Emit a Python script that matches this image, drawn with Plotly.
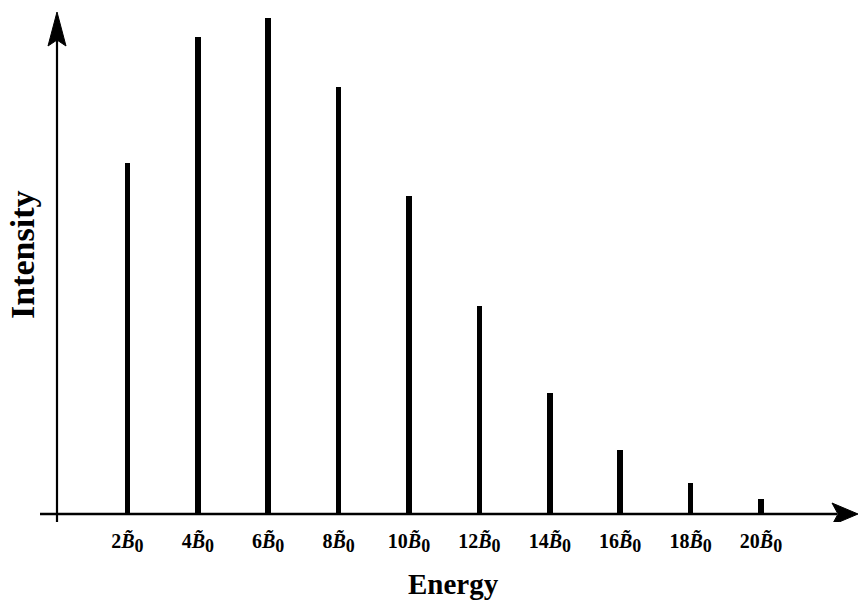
import plotly.graph_objects as go

energy = [2, 4, 6, 8, 10, 12, 14, 16, 18, 20]
intensity = [70.8, 96.2, 100.0, 86.1, 64.1, 41.9, 24.4, 12.9, 6.3, 3.0]
tick_labels = [f"<b>{e}<i>B\u0303</i><sub><span style='font-size:18px'>0</span></sub></b>"
               for e in energy]

FONT = "Liberation Serif"

fig = go.Figure()
fig.add_trace(go.Bar(
    x=energy, y=intensity, width=0.16,
    marker=dict(color="black", line=dict(width=0)),
    showlegend=False, hoverinfo="skip",
))

# axis lines and arrows (pixel-sized shapes anchored at the origin)
fig.add_shape(type="line", xref="x", yref="y", xsizemode="pixel", ysizemode="pixel",
              xanchor=0, yanchor=0, x0=-17, x1=780, y0=0, y1=0,
              line=dict(color="black", width=2.5))
fig.add_shape(type="line", xref="x", yref="y", xsizemode="pixel", ysizemode="pixel",
              xanchor=0, yanchor=0, x0=0, x1=0, y0=-8, y1=475,
              line=dict(color="black", width=2.2))
fig.add_shape(type="path", xref="x", yref="y", xsizemode="pixel", ysizemode="pixel",
              xanchor=0, yanchor=0, path="M0,502 L-9,468 L0,474 L9,468 Z",
              fillcolor="black", line=dict(color="black", width=1))
fig.add_shape(type="path", xref="x", yref="y", xsizemode="pixel", ysizemode="pixel",
              xanchor=0, yanchor=0, path="M801,0 L775,-11 L781,0 L775,11 Z",
              fillcolor="black", line=dict(color="black", width=1))

fig.add_annotation(text="<b>Energy</b>", xref="paper", yref="paper",
                   x=454/858, y=(522-601)/522, yanchor="bottom", showarrow=False,
                   borderpad=0,
                   font=dict(family=FONT, size=29, color="black"))
fig.add_annotation(text="<b>Intensity</b>", xref="paper", yref="paper",
                   x=22/858, xanchor="center", y=(522-255)/522, yanchor="middle",
                   textangle=-90, showarrow=False,
                   font=dict(family=FONT, size=34, color="black"))

fig.update_layout(
    width=858, height=602,
    margin=dict(l=0, r=0, t=0, b=80),
    plot_bgcolor="white", paper_bgcolor="white",
    bargap=0,
    xaxis=dict(range=[-57/35.2, (858-57)/35.2], tickvals=energy, ticktext=tick_labels,
               showgrid=False, zeroline=False, showline=False, ticks="",
               ticklabelstandoff=5,
               tickfont=dict(family=FONT, size=20, color="black")),
    yaxis=dict(range=[-8/4.96, 514/4.96], showgrid=False, zeroline=False,
               showline=False, showticklabels=False, ticks=""),
)

fig.write_html("out.html")
